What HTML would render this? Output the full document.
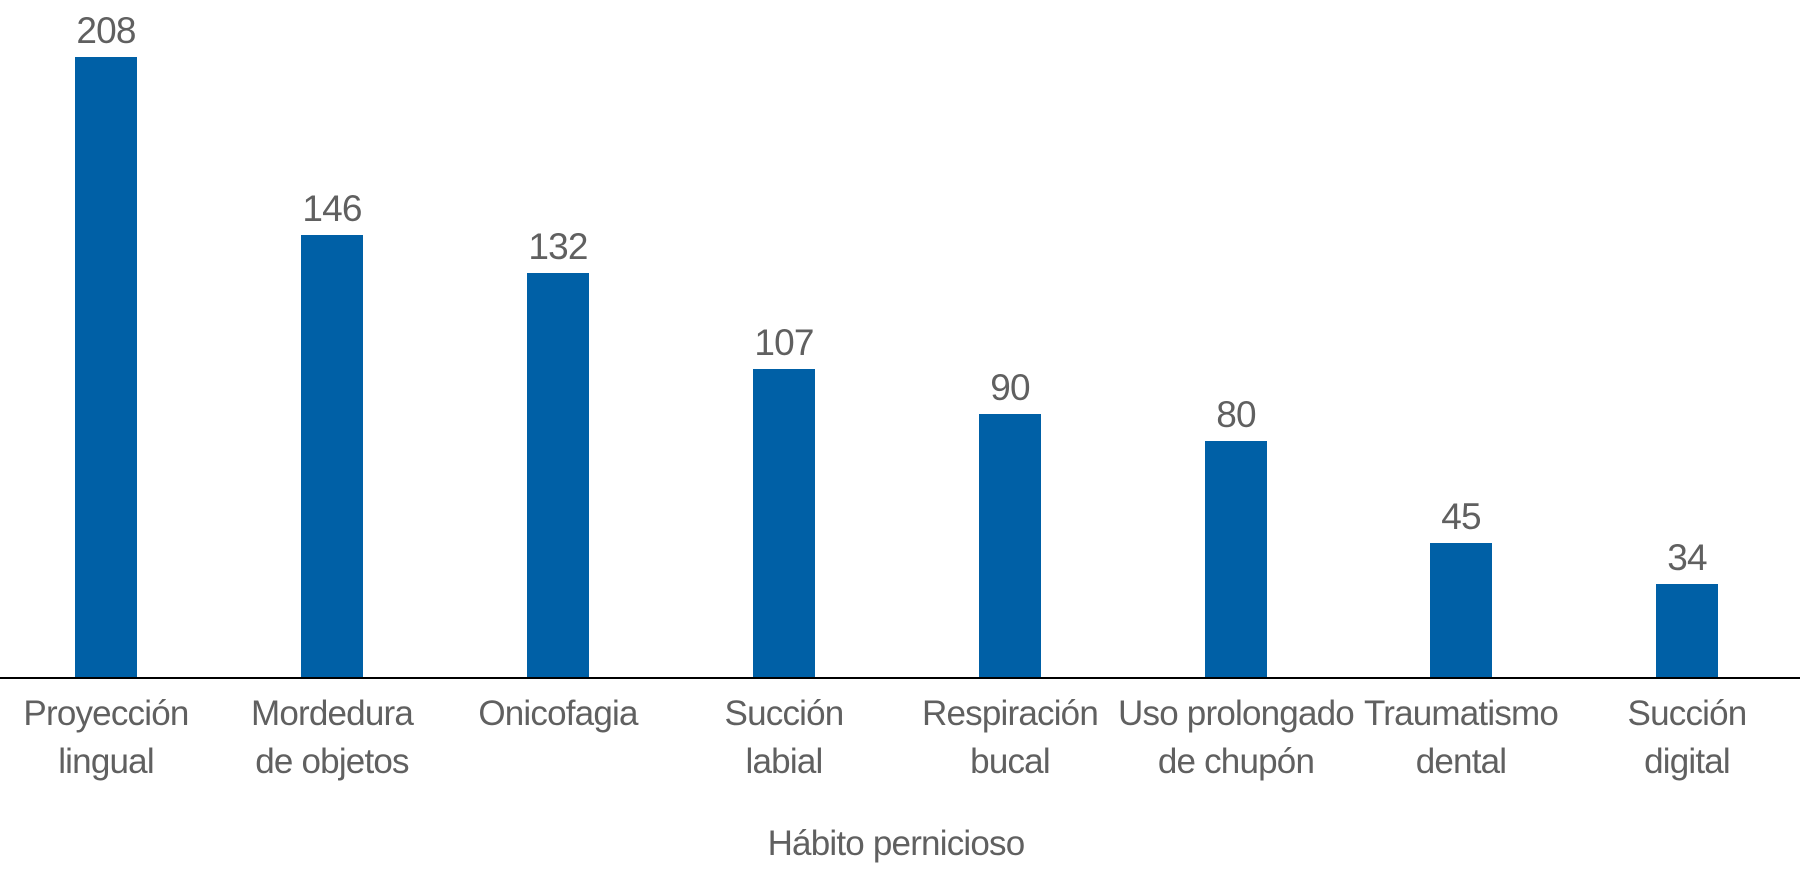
<!DOCTYPE html>
<html><head><meta charset="utf-8"><style>
body{margin:0;background:#fff;}
svg text{font-family:"Liberation Sans Narrow","Liberation Sans",Arial,sans-serif;fill:#606060;letter-spacing:-0.8px;}
</style></head><body>
<svg width="1800" height="871" viewBox="0 0 1800 871" xmlns="http://www.w3.org/2000/svg">
<g fill="#0060a6">
<rect x="75" y="57" width="62" height="620"/>
<rect x="301" y="235" width="62" height="442"/>
<rect x="527" y="273" width="62" height="404"/>
<rect x="753" y="369" width="62" height="308"/>
<rect x="979" y="414" width="62" height="263"/>
<rect x="1205" y="441" width="62" height="236"/>
<rect x="1430" y="543" width="62" height="134"/>
<rect x="1656" y="584" width="62" height="93"/>
</g>
<line x1="0" y1="678" x2="1800" y2="678" stroke="#000" stroke-width="2"/>
<g font-size="37" text-anchor="middle">
<text x="106" y="43">208</text>
<text x="332" y="221">146</text>
<text x="558" y="259">132</text>
<text x="784" y="355">107</text>
<text x="1010" y="400">90</text>
<text x="1236" y="427">80</text>
<text x="1461" y="529">45</text>
<text x="1687" y="570">34</text>
</g>
<g font-size="35" text-anchor="middle">
<text x="106" y="725">Proyección</text><text x="106" y="773">lingual</text>
<text x="332" y="725">Mordedura</text><text x="332" y="773">de objetos</text>
<text x="558" y="725">Onicofagia</text>
<text x="784" y="725">Succión</text><text x="784" y="773">labial</text>
<text x="1010" y="725">Respiración</text><text x="1010" y="773">bucal</text>
<text x="1236" y="725">Uso prolongado</text><text x="1236" y="773">de chupón</text>
<text x="1461" y="725">Traumatismo</text><text x="1461" y="773">dental</text>
<text x="1687" y="725">Succión</text><text x="1687" y="773">digital</text>
<text x="896" y="855">Hábito pernicioso</text>
</g>
</svg>
</body></html>
